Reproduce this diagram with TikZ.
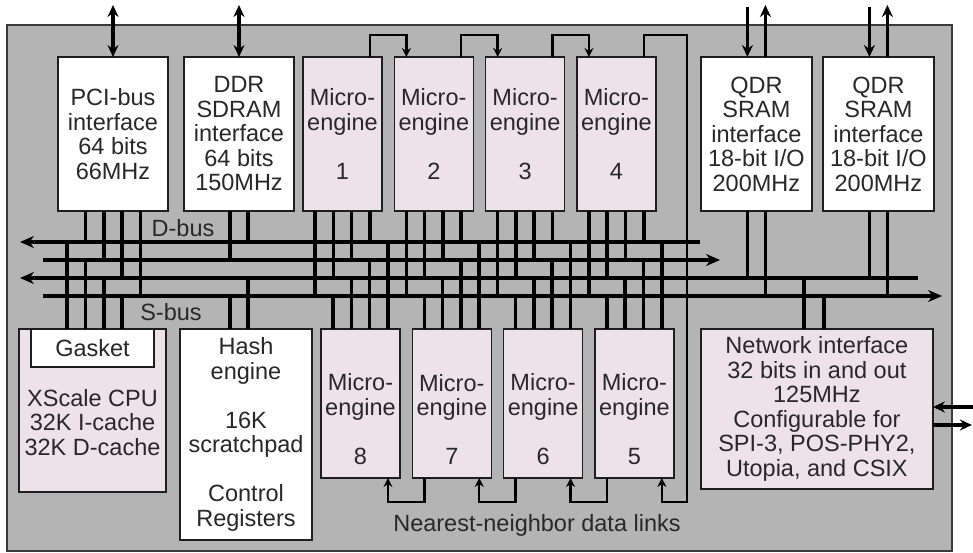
\documentclass[tikz,border=0pt]{standalone}
\usepackage{fontspec}
\setmainfont{Liberation Sans}
\usepackage{tikz}
\usetikzlibrary{positioning, arrows.meta}
\definecolor{ChipGray}{RGB}{180, 180, 180}
\definecolor{ChipLine}{RGB}{60, 60, 60}
\definecolor{EnginePink}{RGB}{236, 226, 231}
\definecolor{BoxLine}{RGB}{30, 30, 30}
\definecolor{TextGray}{RGB}{40, 40, 40}
\newcommand{\blockfont}{\fontsize{23.5}{24.5}\selectfont}

\begin{document}
\begin{tikzpicture}[
                x=1pt, y=-1pt,
                box/.style={rectangle, draw=BoxLine, line width=1.5pt, fill=white, text=TextGray, align=center, inner sep=0pt, outer sep=0pt, font=\blockfont},
                engine/.style={box, fill=EnginePink, minimum width=79pt},
                bus/.style={line width=3.6pt, >={Stealth[length=14pt,width=12pt]}},
                stub/.style={line width=3.6pt},
                link/.style={line width=2.4pt, ->, >={Stealth[length=9pt,width=9pt]}},
                io/.style={line width=3.2pt, >={Stealth[length=12pt,width=11pt]}},
                tag/.style={text=TextGray, font=\blockfont, inner sep=0pt}
            ]
                \useasboundingbox (0,0) rectangle (973,553);
                \filldraw[fill=ChipGray, draw=ChipLine, line width=1.8pt] (7,25) rectangle (952,551);

                % top row
                \node (pci) [box, minimum width=110pt, minimum height=154pt] at (113,134) {PCI-bus\\interface\\64 bits\\66MHz};
                \node (ddr) [box, minimum width=110pt, minimum height=154pt, right=16pt of pci] {DDR\\SDRAM\\interface\\64 bits\\150MHz};
                \node (me1) [engine, minimum height=154pt, right=9pt of ddr] {Micro-\\engine\\[24.5pt]1};
                \node (me2) [engine, minimum height=154pt, right=12.3pt of me1] {Micro-\\engine\\[24.5pt]2};
                \node (me3) [engine, minimum height=154pt, right=12.3pt of me2] {Micro-\\engine\\[24.5pt]3};
                \node (me4) [engine, minimum height=154pt, right=12.3pt of me3] {Micro-\\engine\\[24.5pt]4};
                \node (qdr1) [box, minimum width=111pt, minimum height=154pt, right=45pt of me4] {QDR\\SRAM\\interface\\18-bit I/O\\200MHz};
                \node (qdr2) [box, minimum width=111pt, minimum height=154pt, right=11pt of qdr1] {QDR\\SRAM\\interface\\18-bit I/O\\200MHz};

                % bottom row
                \node (xscale) [box, fill=EnginePink, minimum width=147pt, minimum height=163pt, anchor=north west] at (19,329) {\mbox{}\\[16.5pt]XScale CPU\\32K I-cache\\32K D-cache};
                \node (gasket) [box, minimum width=123pt, minimum height=38pt, anchor=north] at (xscale.north) {Gasket};
                \node (hash) [box, minimum width=132pt, minimum height=211pt, right=14pt of xscale.north east, anchor=north west] {Hash\\engine\\[24.5pt]16K\\scratchpad\\[24.5pt]Control\\Registers};
                \node (me8) [engine, minimum height=149pt, right=9pt of hash.north east, anchor=north west] {\mbox{}\\[24pt]Micro-\\engine\\[24.5pt]8};
                \node (me7) [engine, minimum height=149pt, right=12.3pt of me8.north east, anchor=north west] {\mbox{}\\[24pt]Micro-\\engine\\[24.5pt]7};
                \node (me6) [engine, minimum height=149pt, right=12.3pt of me7.north east, anchor=north west] {\mbox{}\\[24pt]Micro-\\engine\\[24.5pt]6};
                \node (me5) [engine, minimum height=149pt, right=12.3pt of me6.north east, anchor=north west] {\mbox{}\\[24pt]Micro-\\engine\\[24.5pt]5};
                \node (net) [box, fill=EnginePink, minimum width=232pt, minimum height=160pt, right=27pt of me5.north east, anchor=north west] {Network interface\\32 bits in and out\\125MHz\\Configurable for\\SPI-3, POS-PHY2,\\Utopia, and CSIX};

                % D-bus and S-bus
                \coordinate (d1w) at (20,242);  \coordinate (d1e) at (700,242);
                \coordinate (d2w) at (43,260);  \coordinate (d2e) at (720,260);
                \coordinate (s1w) at (20,278);  \coordinate (s1e) at (918,278);
                \coordinate (s2w) at (43,296);  \coordinate (s2e) at (942,296);
                \draw [bus,<-] (d1w) -- (d1e);
                \draw [bus,->] (d2w) -- (d2e);
                \draw [bus,<-] (s1w) -- (s1e);
                \draw [bus,->] (s2w) -- (s2e);
                \node (dbus) [tag] at (183,228) {D-bus};
                \node (sbus) [tag] at (171,312) {S-bus};

                % bus taps
                \foreach \n in {1,...,4}{
                    \foreach \dx/\ln in {-27.45/s2w, -9.15/s1w, 9.15/d2w, 27.45/d1w}{
                        \coordinate (p) at ([xshift=\dx]me\n.south);
                        \draw [stub] (p) -- (p |- \ln);
                    }
                }
                \foreach \n in {5,...,8}{
                    \foreach \dx/\ln in {-27.45/s2w, -9.15/s1w, 9.15/d2w, 27.45/d1w}{
                        \coordinate (p) at ([xshift=\dx]me\n.north);
                        \draw [stub] (p) -- (p |- \ln);
                    }
                }
                \foreach \dx/\ln in {-27.45/d1w, -9.15/d2w, 9.15/s1w, 27.45/s2w}{
                    \coordinate (p) at ([xshift=\dx]pci.south);
                    \draw [stub] (p) -- (p |- \ln);
                    \coordinate (q) at ([xshift=\dx-18.3]pci.south);
                    \draw [stub] (q |- gasket.north) -- (q |- \ln);
                }
                \foreach \dx/\up/\dn in {-9.15/d2w/s2w, 9.15/d1w/s1w}{
                    \coordinate (p) at ([xshift=\dx]ddr.south);
                    \draw [stub] (p) -- (p |- \up);
                    \draw [stub] (p |- hash.north) -- (p |- \dn);
                }
                \foreach \nd in {qdr1, qdr2}{
                    \coordinate (p) at ([xshift=-9]\nd.south);
                    \draw [stub] (p) -- (p |- s1w);
                    \coordinate (p) at ([xshift=9]\nd.south);
                    \draw [stub] (p) -- (p |- s2w);
                }
                \coordinate (p) at ([xshift=-13]net.north);
                \draw [stub] (p) -- (p |- s1w);
                \coordinate (p) at ([xshift=7]net.north);
                \draw [stub] (p) -- (p |- s2w);

                % nearest-neighbor links
                \foreach \a/\b in {me1/me2, me2/me3, me3/me4}
                    \draw [link] ([xshift=27.45]\a.north) -- ++(0,-22) -| ([xshift=-27.45]\b.north);
                \coordinate (wrap) at (687,502);
                \draw [link] ([xshift=27.45]me4.north) -- ++(0,-22) -| (wrap) -| ([xshift=27.45]me5.south);
                \foreach \a/\b in {me5/me6, me6/me7, me7/me8}
                    \draw [link] ([xshift=-27.45]\a.south) -- ++(0,24) -| ([xshift=27.45]\b.south);
                \node (nnlinks) [tag] at (537,525) {Nearest-neighbor data links};

                % external ports
                \draw [io,<->] (pci.north) -- ++(0,-52) coordinate (pciext);
                \draw [io,<->] (ddr.north) -- ++(0,-52) coordinate (ddrext);
                \foreach \nd in {qdr1, qdr2}{
                    \draw [io,->] ([xshift=-9]\nd.north) ++(0,-50) -- ([xshift=-9]\nd.north);
                    \draw [io,->] ([xshift=9]\nd.north) -- ++(0,-52);
                }
                \draw [io,->] ([yshift=2]net.east) ++(40,0) -- ([yshift=2]net.east);
                \draw [io,->] ([yshift=-16]net.east) -- ++(39,0);
            \end{tikzpicture}
\end{document}
